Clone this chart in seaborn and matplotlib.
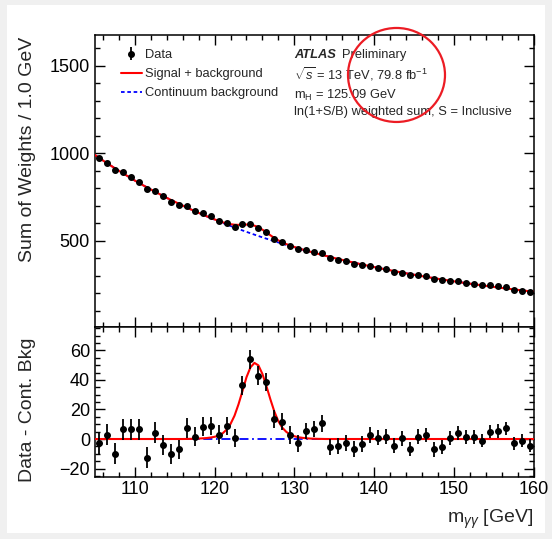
import numpy as np
import matplotlib
matplotlib.use("Agg")
import matplotlib.pyplot as plt
from matplotlib.patches import Rectangle, Ellipse
from matplotlib.ticker import MultipleLocator
import seaborn as sns

# 1 GeV bins of the diphoton invariant mass
bin_centres = np.arange(105.5, 160.0, 1.0)

# ln(1+S/B)-weighted sum of events per bin
sum_weights = [972, 947, 904, 892, 864, 838, 793, 785, 753, 724,
               705, 698, 671, 658, 639, 614, 602, 576, 595, 596,
               570, 550, 510, 494, 472, 453, 448, 437, 429, 402,
               391, 382, 367, 360, 357, 346, 337, 322, 318, 303,
               303, 296, 279, 273, 272, 268, 259, 252, 244, 244,
               238, 234, 218, 215, 206]

# data minus continuum background in each bin
residuals = [-2.5, 3.0, -10.0, 6.5, 6.5, 6.5, -12.6, 4.3, -4.0, -10.0,
             -7.0, 7.6, 1.5, 8.3, 8.8, 3.0, 8.8, 0.5, 36.5, 53.8,
             42.8, 38.7, 13.5, 11.7, 2.7, -3.0, 5.4, 6.8, 10.6, -5.2,
             -4.5, -2.5, -7.0, -3.6, 2.7, 0.9, 1.6, -4.7, 0.5, -6.7,
             1.6, 2.7, -7.0, -5.2, 0.5, 3.8, 1.6, 1.1, -1.1, 5.0,
             5.4, 7.2, -3.0, -1.3, -4.7]

# statistical uncertainty of each bin
errors = [7.4, 7.3, 7.2, 7.2, 7.1, 7.0, 6.9, 6.9, 6.8, 6.7,
          6.6, 6.6, 6.5, 6.4, 6.4, 6.3, 6.2, 6.2, 6.4, 6.6,
          6.5, 6.3, 6.0, 5.9, 5.8, 5.7, 5.7, 5.6, 5.6, 5.5,
          5.5, 5.4, 5.4, 5.3, 5.3, 5.2, 5.2, 5.1, 5.1, 5.0,
          5.0, 4.9, 4.9, 4.8, 4.8, 4.7, 4.7, 4.7, 4.6, 4.6,
          4.5, 4.5, 4.5, 4.4, 4.4]

# mass points at which the fitted shapes are drawn (finer around the peak)
curve_mass = np.concatenate([np.arange(105.0, 117.0, 1.0),
                             np.arange(117.0, 133.5, 0.5),
                             np.arange(134.0, 161.0, 1.0)])

# continuum background shape
bkg_curve = np.array([
    990.0, 959.0, 929.0, 900.0, 872.0, 844.0, 818.0, 793.0, 769.0, 745.0, 723.0, 701.0,
    679.4, 669.2, 659.1, 649.1, 639.4, 629.8, 620.4, 611.1, 602.0, 593.1, 584.3,
    575.6, 567.1, 558.8, 550.6, 542.5, 534.6, 526.7, 519.1, 511.5, 504.2, 496.9,
    489.7, 482.7, 475.7, 469.0, 462.2, 455.7, 449.2, 442.9, 436.6, 430.5, 424.4,
    412.6, 401.1, 390.1, 379.4, 369.0, 359.0, 349.3, 339.9, 330.8, 322.1, 313.6,
    305.3, 297.3, 289.6, 282.0, 274.8, 267.7, 260.9, 254.3, 247.9, 241.6, 235.7,
    229.8, 224.1, 218.6, 213.3, 208.1])

# Higgs signal shape between 117 and 133 GeV
signal_peak = [0.1, 0.2, 0.3, 0.45, 0.65, 1.0, 1.5, 2.3, 3.8, 6.3, 10.2,
               15.8, 23.5, 32.5, 41.8, 48.5, 51.5, 49.8, 44.0, 35.8, 26.8,
               18.5, 12.0, 7.6, 4.8, 3.0, 1.9, 1.2, 0.8, 0.5, 0.3, 0.2, 0.1]
sig_curve = np.concatenate([np.zeros(12), signal_peak, np.zeros(27)])

sns.set_theme(style="ticks")
plt.rcParams["font.family"] = ["Liberation Sans", "DejaVu Sans"]
plt.rcParams["mathtext.fontset"] = "custom"
plt.rcParams["mathtext.rm"] = "Liberation Sans"
plt.rcParams["mathtext.it"] = "Liberation Sans:italic"
plt.rcParams["mathtext.bf"] = "Liberation Sans:bold"

fig = plt.figure(figsize=(5.52, 5.39), dpi=100, facecolor="#f0f0f0")
fig.add_artist(Rectangle((0.0127, 0.0111), 0.9746, 0.9796, transform=fig.transFigure,
                         facecolor="white", edgecolor="none", zorder=-10))

ax1 = fig.add_axes([0.1721, 0.3939, 0.7944, 0.5412])
ax2 = fig.add_axes([0.1721, 0.1156, 0.7944, 0.2783])

# upper panel: weighted data with fit
sns.lineplot(x=curve_mass, y=bkg_curve, ax=ax1, color="blue", lw=1.3,
             linestyle=(0, (2.0, 1.5)), zorder=2)
sns.lineplot(x=curve_mass, y=bkg_curve + sig_curve, ax=ax1, color="red", lw=1.5, zorder=3)
blue_line, red_line = ax1.lines[0], ax1.lines[1]
data_pts = ax1.errorbar(bin_centres, sum_weights, yerr=errors, fmt="o", color="black",
                        ms=4.0, elinewidth=1.3, capsize=0, zorder=5)

# lower panel: background-subtracted data
sns.lineplot(x=curve_mass, y=bkg_curve - bkg_curve, ax=ax2, color="blue", lw=1.3,
             linestyle=(0, (5, 2, 1, 2)), zorder=2)
sns.lineplot(x=curve_mass, y=sig_curve, ax=ax2, color="red", lw=1.5, zorder=3)
ax2.errorbar(bin_centres, residuals, yerr=errors, fmt="o", color="black",
             ms=4.0, elinewidth=1.3, capsize=0, zorder=5)

ax1.set_xlim(105, 160)
ax2.set_xlim(105, 160)
ax1.set_ylim(8, 1677)
ax2.set_ylim(-25.5, 76)

for ax in (ax1, ax2):
    ax.set_facecolor("white")
    for s in ax.spines.values():
        s.set_color("black")
        s.set_linewidth(1.1)
    ax.xaxis.set_major_locator(MultipleLocator(10))
    ax.xaxis.set_minor_locator(MultipleLocator(2))
    ax.tick_params(which="both", direction="in", top=True, right=True,
                   colors="black", width=1.0, labelsize=13)
    ax.tick_params(which="major", length=7.2)
    ax.tick_params(which="minor", length=3.6)
    ax.tick_params(axis="y", pad=3.6)
    ax.tick_params(axis="x", pad=3.0)
    ax.set_xlabel("")
    ax.set_ylabel("")

ax1.yaxis.set_major_locator(MultipleLocator(500))
ax1.yaxis.set_minor_locator(MultipleLocator(100))
ax2.yaxis.set_major_locator(MultipleLocator(20))
ax2.yaxis.set_minor_locator(MultipleLocator(5))
ax1.tick_params(labelbottom=False)

ax1.set_ylabel("Sum of Weights / 1.0 GeV", fontsize=14, loc="top")
ax1.yaxis.set_label_coords(-0.134, 0.993)
ax2.set_ylabel("Data - Cont. Bkg", fontsize=14, loc="top")
ax2.yaxis.set_label_coords(-0.134, 0.927)
ax2.set_xlabel(r"m$_{\gamma\gamma}$ [GeV]", fontsize=14, loc="right")
ax2.xaxis.set_label_coords(1.0, -0.207)

ax1.legend([data_pts, red_line, blue_line],
           ["Data", "Signal + background", "Continuum background"],
           loc="upper left", bbox_to_anchor=(0.0588, 0.952), frameon=False,
           fontsize=9.3, handlelength=1.63, handletextpad=0.26, labelspacing=0.55,
           borderpad=0, borderaxespad=0)

fs = 9.3
ax1.text(0.4538, 0.9215, "ATLAS", fontstyle="italic", fontweight="bold", fontsize=fs,
         transform=ax1.transAxes)
ax1.text(0.5643, 0.9215, "Preliminary", fontsize=fs, transform=ax1.transAxes)
ax1.text(0.4538, 0.846, r"$\sqrt{s}$ = 13 TeV, 79.8 fb$^{-1}$", fontsize=fs,
         transform=ax1.transAxes)
ax1.text(0.4538, 0.782, r"m$_{\rm H}$ = 125.09 GeV", fontsize=fs, transform=ax1.transAxes)
ax1.text(0.4538, 0.7247, "ln(1+S/B) weighted sum, S = Inclusive", fontsize=fs,
         transform=ax1.transAxes)

fig.add_artist(Ellipse((0.7183, 0.8609), 0.1757, 0.1744, transform=fig.transFigure,
                       fill=False, edgecolor="#ec1c24", lw=1.6, zorder=10))

fig.savefig("out.png", dpi=100, facecolor=fig.get_facecolor())
